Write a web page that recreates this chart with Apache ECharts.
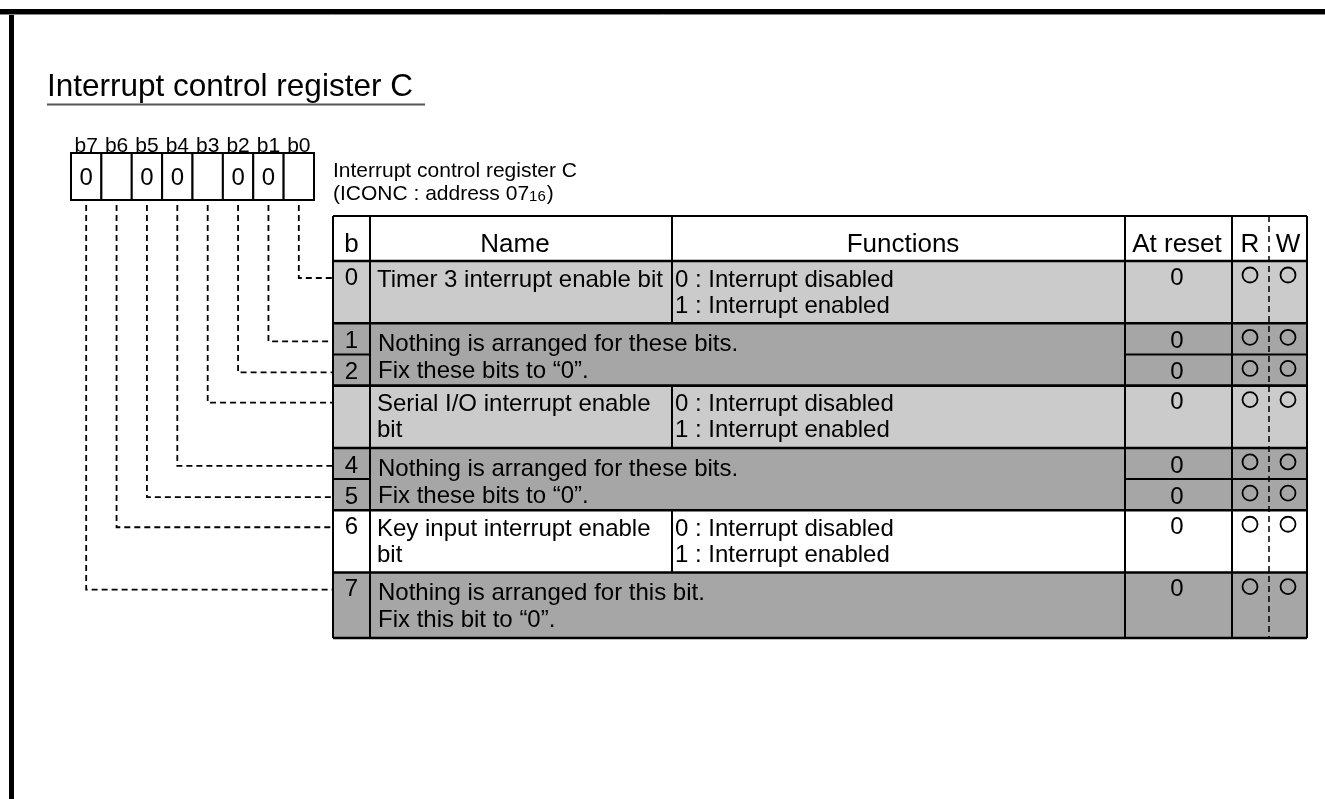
<!DOCTYPE html>
<html>
<head>
<meta charset="utf-8">
<script src="https://cdn.jsdelivr.net/npm/echarts@6/dist/echarts.min.js"></script>
<style>
html,body{margin:0;padding:0;background:#ffffff;}
#c{width:1325px;height:799px;}
</style>
</head>
<body>
<div id="c"></div>
<script>
// ---------------- data ----------------
const titleText = 'Interrupt control register C';
const registerName = 'Interrupt control register C';
const registerAddress = '(ICONC : address 07{sub|16})';
const bitLabels = ['b7', 'b6', 'b5', 'b4', 'b3', 'b2', 'b1', 'b0'];
const bitValues = ['0', '', '0', '0', '', '0', '0', ''];
const headerLabels = ['b', 'Name', 'Functions', 'At reset', 'R', 'W'];
const rowBitNumbers = ['0', '1', '2', '', '4', '5', '6', '7'];
const resetValues = ['0', '0', '0', '0', '0', '0', '0', '0'];
const readable = [true, true, true, true, true, true, true, true];
const writable = [true, true, true, true, true, true, true, true];
const groupRows = [[0], [1, 2], [3], [4, 5], [6], [7]];
const groupNames = [
  ['Timer 3 interrupt enable bit'],
  ['Nothing is arranged for these bits.', 'Fix these bits to \u201c0\u201d.'],
  ['Serial I/O interrupt enable', 'bit'],
  ['Nothing is arranged for these bits.', 'Fix these bits to \u201c0\u201d.'],
  ['Key input interrupt enable', 'bit'],
  ['Nothing is arranged for this bit.', 'Fix this bit to \u201c0\u201d.']
];
const groupFunctions = [
  ['0 : Interrupt disabled', '1 : Interrupt enabled'],
  null,
  ['0 : Interrupt disabled', '1 : Interrupt enabled'],
  null,
  ['0 : Interrupt disabled', '1 : Interrupt enabled'],
  null
];

// ---------------- layout & style ----------------
const FONT = '"Liberation Sans", Arial, Helvetica, sans-serif';
const GROUP_FILLS = ['#cbcbcb', '#a6a6a6', '#cbcbcb', '#a6a6a6', '#ffffff', '#a6a6a6'];
const L = {
  frame: { inset: 9, thick: 5 },
  title: { left: 47, top: 71, size: 31.5, underlineY: 104.5, underlineEnd: 425 },
  side: { x: 333, y1: 171, y2: 194, size: 21, subSize: 15 },
  reg: { left: 71, top: 153, width: 243, height: 47, labelSize: 21, labelGap: 7, valueSize: 24, leaderGap: 5 },
  table: { cols: [333, 370, 672, 1125, 1232, 1269, 1307], top: 216, headerBottom: 261, bottom: 638 },
  rowUnits: [2, 1, 1, 2, 1, 1, 2, 2.1],
  headerX: [351.5, 515, 903, 1177, 1250, 1288],
  headerY: 245, headerSize: 26,
  textSize: 24,
  numTall: 17, numSub: 18,
  circTall: 14, circSub: 14, circR: 7.5,
  funcLines: [19, 45], resLines: [21, 48],
  nameX: 7, resX: 8, funcX: 3,
  resetX: 1177, rX: 1250, wX: 1288,
  lineW: 2, dash: [6, 4]
};

const T = L.table;
const totalUnits = L.rowUnits.reduce((a, b) => a + b, 0);
const unitH = (T.bottom - T.headerBottom) / totalUnits;
const rowTop = [];
(function () { let acc = T.headerBottom; L.rowUnits.forEach(u => { rowTop.push(acc); acc += u * unitH; }); rowTop.push(acc); })();
const rowIsSub = rowBitNumbers.map((_, r) => groupRows.some(g => g.length > 1 && g.indexOf(r) >= 0));
const numberY = r => rowTop[r] + (rowIsSub[r] ? L.numSub : L.numTall);

function P(api, x, y) { return api.coord([x, y]); }
function txt(api, x, y, s, size, align, extra) {
  const p = P(api, x, y);
  const st = { text: s, x: p[0], y: p[1], fill: '#000', fontSize: size, fontFamily: FONT,
    align: align || 'left', verticalAlign: 'middle', textAlign: align || 'left', textVerticalAlign: 'middle' };
  if (extra) Object.assign(st, extra);
  return { type: 'text', style: st };
}
function ln(api, x1, y1, x2, y2, w, dash, color) {
  const a = P(api, x1, y1), b = P(api, x2, y2);
  const st = { stroke: color || '#000', lineWidth: w || L.lineW };
  if (dash) st.lineDash = dash;
  return { type: 'line', shape: { x1: a[0], y1: a[1], x2: b[0], y2: b[1] }, style: st };
}
function box(api, x1, y1, x2, y2, fill) {
  const a = P(api, x1, y1), b = P(api, x2, y2);
  return { type: 'rect', shape: { x: a[0], y: a[1], width: b[0] - a[0], height: b[1] - a[1] }, style: { fill: fill, stroke: null } };
}

const chart = echarts.init(document.getElementById('c'), null, { renderer: 'canvas', width: 1325, height: 799 });

const common = { type: 'custom', silent: true, animation: false, xAxisIndex: 0, yAxisIndex: 0 };

const option = {
  animation: false,
  backgroundColor: '#ffffff',
  title: {
    text: titleText, left: L.title.left, top: L.title.top, padding: 0,
    textStyle: { fontSize: L.title.size, fontWeight: 'normal', color: '#000', fontFamily: FONT }
  },
  grid: [
    { left: 0, top: 0, width: 1325, height: 799, outerBoundsMode: 'none' },
    { left: L.reg.left, top: L.reg.top, width: L.reg.width, height: L.reg.height, outerBoundsMode: 'none' }
  ],
  xAxis: [
    { type: 'value', gridIndex: 0, min: 0, max: 1325, show: false },
    { type: 'category', gridIndex: 1, data: bitLabels, position: 'top',
      axisLine: { show: false }, axisTick: { show: false }, splitLine: { show: false },
      axisLabel: { interval: 0, fontSize: L.reg.labelSize, color: '#000', fontFamily: FONT,
        margin: L.reg.labelGap, verticalAlign: 'middle' } }
  ],
  yAxis: [
    { type: 'value', gridIndex: 0, min: 0, max: 799, inverse: true, show: false },
    { type: 'value', gridIndex: 1, min: 0, max: 1, show: false }
  ],
  series: [
    // frame + title underline
    Object.assign({}, common, {
      z: 1, data: [[0, 0]],
      renderItem: function (params, api) {
        const f = L.frame;
        return { type: 'group', children: [
          box(api, 0, f.inset, 1325, f.inset + f.thick, '#000'),
          box(api, f.inset, f.inset, f.inset + f.thick, 799, '#000'),
          ln(api, 0, f.inset + f.thick + 0.5, 1325, f.inset + f.thick + 0.5, 1, null, '#888'),
          ln(api, L.title.left, L.title.underlineY, L.title.underlineEnd, L.title.underlineY, 2, null, '#555')
        ] };
      }
    }),
    // side label
    Object.assign({}, common, {
      z: 2, data: [[0, 0]],
      renderItem: function (params, api) {
        const s = L.side;
        return { type: 'group', children: [
          txt(api, s.x, s.y1, registerName, s.size),
          txt(api, s.x, s.y2, registerAddress, s.size, 'left', {
            rich: { sub: { fontSize: s.subSize, fontFamily: FONT, fill: '#000', verticalAlign: 'bottom', padding: [0, 1, 0, 0] } }
          })
        ] };
      }
    }),
    // header row
    Object.assign({}, common, {
      z: 2, data: headerLabels.map((h, i) => [i, 0]),
      renderItem: function (params, api) {
        const i = params.dataIndex;
        const ch = [];
        if (i === 0) ch.push(box(api, T.cols[0], T.top, T.cols[6], T.headerBottom, '#ffffff'));
        ch.push(txt(api, L.headerX[i], L.headerY, headerLabels[i], L.headerSize, 'center'));
        return { type: 'group', children: ch };
      }
    }),
    // groups: background, names, functions
    Object.assign({}, common, {
      z: 2, data: groupRows.map((g, i) => [i, 0]),
      renderItem: function (params, api) {
        const g = params.dataIndex;
        const rows = groupRows[g];
        const y0 = rowTop[rows[0]], y1 = rowTop[rows[rows.length - 1] + 1];
        const ch = [box(api, T.cols[0], y0, T.cols[6], y1, GROUP_FILLS[g])];
        const fn = groupFunctions[g];
        const off = fn ? L.funcLines : L.resLines;
        const nx = T.cols[1] + (fn ? L.nameX : L.resX);
        groupNames[g].forEach((s, k) => ch.push(txt(api, nx, y0 + off[k], s, L.textSize)));
        if (fn) {
          fn.forEach((s, k) => ch.push(txt(api, T.cols[2] + L.funcX, y0 + off[k], s, L.textSize)));
        }
        return { type: 'group', children: ch };
      }
    }),
    // per-bit rows: numbers, reset, R/W marks
    Object.assign({}, common, {
      z: 3, data: rowBitNumbers.map((b, i) => [i, 0]),
      renderItem: function (params, api) {
        const r = params.dataIndex;
        const ny = numberY(r);
        const cy = rowTop[r] + (rowIsSub[r] ? L.circSub : L.circTall);
        const ch = [];
        if (rowBitNumbers[r]) ch.push(txt(api, (T.cols[0] + T.cols[1]) / 2, ny, rowBitNumbers[r], L.textSize, 'center'));
        ch.push(txt(api, L.resetX, ny, resetValues[r], L.textSize, 'center'));
        const marks = [[readable[r], L.rX], [writable[r], L.wX]];
        marks.forEach(m => {
          if (!m[0]) return;
          const c = P(api, m[1], cy);
          ch.push({ type: 'circle', shape: { cx: c[0], cy: c[1], r: L.circR }, style: { fill: 'none', stroke: '#000', lineWidth: 1.8 } });
        });
        return { type: 'group', children: ch };
      }
    }),
    // table grid lines
    Object.assign({}, common, {
      z: 4, data: [[0, 0]],
      renderItem: function (params, api) {
        const c = T.cols;
        const ch = [];
        ch.push(ln(api, c[0], T.top, c[6], T.top));
        ch.push(ln(api, c[0], T.bottom, c[6], T.bottom, 2.4));
        ch.push(ln(api, c[0], T.top, c[0], T.bottom));
        ch.push(ln(api, c[6], T.top, c[6], T.bottom));
        ch.push(ln(api, c[0], T.headerBottom, c[6], T.headerBottom, 2.4));
        groupRows.forEach((g, gi) => {
          const y0 = rowTop[g[0]], y1 = rowTop[g[g.length - 1] + 1];
          if (gi > 0) ch.push(ln(api, c[0], y0, c[6], y0, 2.6));
          if (groupFunctions[gi]) ch.push(ln(api, c[2], y0, c[2], y1));
          g.slice(1).forEach(r => {
            ch.push(ln(api, c[0], rowTop[r], c[1], rowTop[r]));
            ch.push(ln(api, c[3], rowTop[r], c[6], rowTop[r]));
          });
        });
        ch.push(ln(api, c[2], T.top, c[2], T.headerBottom));
        ch.push(ln(api, c[1], T.top, c[1], T.bottom));
        ch.push(ln(api, c[3], T.top, c[3], T.bottom));
        ch.push(ln(api, c[4], T.top, c[4], T.bottom));
        ch.push(ln(api, c[5], T.top, c[5], T.bottom, 1.5, L.dash));
        return { type: 'group', children: ch };
      }
    }),
    // leader lines from register bits to table rows
    Object.assign({}, common, {
      z: 4, data: bitLabels.map((b, i) => [i, 0]),
      renderItem: function (params, api) {
        const i = params.dataIndex;
        const row = bitLabels.length - 1 - i;
        const x = L.reg.left + (i + 0.5) * L.reg.width / bitLabels.length;
        const y = numberY(row);
        const pts = [P(api, x, L.reg.top + L.reg.height + L.reg.leaderGap), P(api, x, y), P(api, T.cols[0], y)];
        return { type: 'polyline', shape: { points: pts }, style: { fill: null, stroke: '#000', lineWidth: 1.8, lineDash: L.dash } };
      }
    }),
    // register cells (on the bit-category axis)
    {
      type: 'custom', silent: true, animation: false, xAxisIndex: 1, yAxisIndex: 1, z: 3,
      data: bitLabels.map((b, i) => [i, 1]),
      renderItem: function (params, api) {
        const i = params.dataIndex;
        const top = api.coord([i, 1]);
        const bot = api.coord([i, 0]);
        const w = api.size([1, 0])[0];
        const ch = [{
          type: 'rect', shape: { x: top[0] - w / 2, y: top[1], width: w, height: bot[1] - top[1] },
          style: { fill: '#ffffff', stroke: '#000', lineWidth: 2 }
        }];
        if (bitValues[i]) {
          ch.push({ type: 'text', style: { text: bitValues[i], x: top[0], y: (top[1] + bot[1]) / 2 + 1.5,
            fill: '#000', fontSize: L.reg.valueSize, fontFamily: FONT,
            align: 'center', verticalAlign: 'middle', textAlign: 'center', textVerticalAlign: 'middle' } });
        }
        return { type: 'group', children: ch };
      }
    }
  ]
};
chart.setOption(option);
</script>
</body>
</html>
